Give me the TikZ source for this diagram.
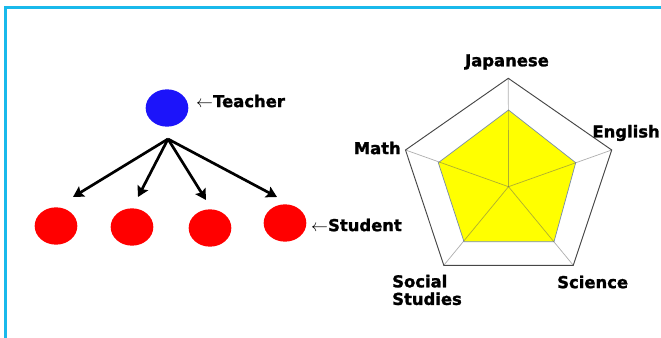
\documentclass[tikz,border=0pt]{standalone}
\usepackage{fontspec}
\setmainfont{DejaVu Sans}[BoldFeatures={FakeBold=1.5}]
\usepackage{tikz}
\usetikzlibrary{arrows.meta, shapes.geometric, positioning}
\definecolor{framecol}{RGB}{25, 185, 235}
\definecolor{teachercol}{RGB}{28, 20, 250}
\definecolor{studentcol}{RGB}{255, 0, 0}
\definecolor{chartfill}{RGB}{255, 255, 0}
\definecolor{chartedge}{RGB}{120, 140, 170}
\definecolor{gridcol}{RGB}{70, 70, 70}
\definecolor{spokecol}{RGB}{95, 95, 95}

\tikzset{
	person/.style={ellipse, fill=#1, minimum width=1.28cm, minimum height=1.12cm, inner sep=0pt},
	lbl/.style={font=\bfseries\fontsize{14}{15}\selectfont, inner sep=0pt},
	link/.style={line width=2.3pt, -{Stealth[length=9pt, width=10pt, inset=1.5pt]}},
}

\begin{document}
\begin{tikzpicture}[x=0.03cm, y=-0.03cm]
			\path[use as bounding box, clip] (0,0) rectangle (661,338);

			% frame
			\draw[framecol, line width=2pt] (5.5,7.5) rectangle (720,400);

			% Teacher and students
			\node[person=teachercol] (teacher) at (167,108) {};
			\node[person=studentcol] (s1) at (56,226) {};
			\node[person=studentcol] (s2) at (132,227) {};
			\node[person=studentcol] (s3) at (210,228) {};
			\node[person=studentcol] (s4) at (285,223) {};

			\node[lbl, anchor=west] (teacherlbl) at (196,101) {$\leftarrow$Teacher};
			\node[lbl, anchor=west] (studentlbl) at (311,225) {$\leftarrow$Student};

			\coordinate (hub) at (168,139);
			\coordinate (a1) at (73,197);
			\coordinate (a2) at (138,197);
			\coordinate (a3) at (206,200);
			\coordinate (a4) at (277,197);

			\draw[link] (hub) -- (a1);
			\draw[link] (hub) -- (a2);
			\draw[link] (hub) -- (a3);
			\draw[link] (hub) -- (a4);

			% Radar chart
			\coordinate (ctr) at (508.5,186.7);
			\coordinate (oJ)  at (508.3,78.3);
			\coordinate (oE)  at (611.7,150);
			\coordinate (oSc) at (573.3,265.3);
			\coordinate (oSo) at (443.8,265.3);
			\coordinate (oM)  at (405.5,150);

			\coordinate (iJ)  at (508.5,110);
			\coordinate (iE)  at (575.7,162.7);
			\coordinate (iSc) at (554,241.7);
			\coordinate (iSo) at (464,241.7);
			\coordinate (iM)  at (438.3,162.7);

			\filldraw[fill=chartfill, draw=chartedge, line width=0.6pt]
				(iJ) -- (iE) -- (iSc) -- (iSo) -- (iM) -- cycle;
			\foreach \v in {oJ, oE, oSc, oSo, oM}
				\draw[spokecol, opacity=0.5, line width=0.6pt] (ctr) -- (\v);
			\draw[gridcol, line width=0.8pt] (oJ) -- (oE) -- (oSc) -- (oSo) -- (oM) -- cycle;

			\node[lbl] (japanese) at (507,62) {Japanese};
			\node[lbl, anchor=east] (english) at (660,133) {English};
			\node[lbl, anchor=east] (math) at (401,148) {Math};
			\node[lbl, anchor=west] (science) at (557,282) {Science};
			\node[lbl, anchor=west, align=left] (social) at (392,290) {Social\\Studies};

		\end{tikzpicture}
\end{document}
